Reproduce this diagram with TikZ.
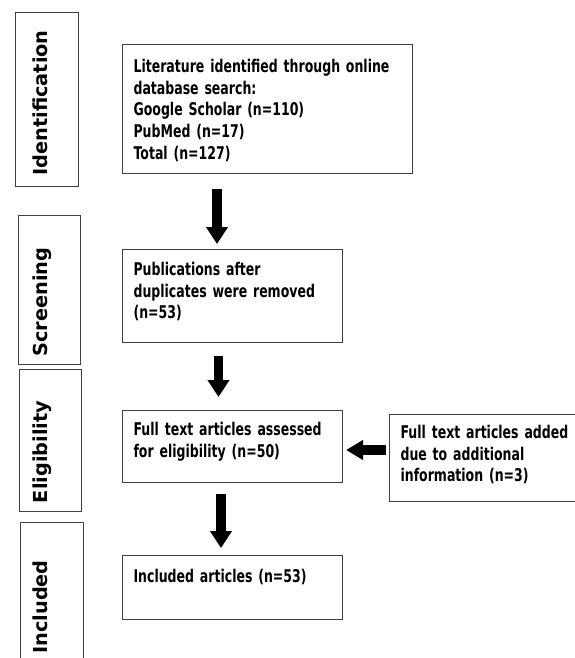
\documentclass[tikz,border=0pt]{standalone}
\usepackage{fontspec}
\setmainfont{DejaVu Sans}[FakeStretch=0.715]
\newfontfamily\stagefont{DejaVu Sans}
\usetikzlibrary{arrows.meta}

\begin{document}
\begin{tikzpicture}[x=1pt,y=-1pt,
    box/.style={draw=black!75,line width=1.1pt,anchor=north west,align=left,
      inner xsep=11pt,inner ysep=0pt,font=\fontsize{17.5}{21.7}\selectfont\bfseries},
    stagebox/.style={draw=black!75,line width=1.1pt,anchor=north west,inner sep=0pt},
    stagelabel/.style={rotate=90,anchor=base,font=\stagefont\fontsize{19.3}{22}\selectfont\bfseries},
    bigarrow/.style={line width=9.5pt,-{Triangle[length=17pt,width=21pt]}}]

  \useasboundingbox (0,0) rectangle (575,658);

  % stages on the left
  \node[stagebox,minimum width=63pt,minimum height=174pt] (idbox) at (15,12) {};
  \node[stagebox,minimum width=62pt,minimum height=149pt] (scbox) at (18,215) {};
  \node[stagebox,minimum width=62pt,minimum height=142pt] (elbox) at (19,369) {};
  \node[stagebox,minimum width=63pt,minimum height=160pt] (inbox) at (20,522) {};

  \node[stagelabel] (idlabel) at (47,103) {Identification};
  \node[stagelabel] (sclabel) at (47,302) {Screening};
  \node[stagelabel] (ellabel) at (47,452) {Eligibility};
  \node[stagelabel] (inlabel) at (47,607) {Included};

  % flow boxes
  \node[box,text width=268pt,text height=28pt,text depth=101pt] (ident) at (122,44)
    {Literature identified through online\\database search:\\Google Scholar (n=110)\\PubMed (n=17)\\Total (n=127)};
  \node[box,text width=198pt,text height=26pt,text depth=67pt] (screen) at (122,249)
    {Publications after\\duplicates were removed\\(n=53)};
  \node[box,text width=198pt,text height=25pt,text depth=47pt] (assess) at (122,410)
    {Full text articles assessed\\for eligibility (n=50)};
  \node[box,text width=198pt,text height=27pt,text depth=37pt] (incl) at (122,555)
    {Included articles (n=53)};
  \node[box,text width=172pt,text height=24pt,text depth=63pt] (added) at (389,414)
    {Full text articles added\\due to additional\\information (n=3)};

  % arrows
  \coordinate (a1) at (217,0);
  \coordinate (a2) at (218.5,0);
  \coordinate (a3) at (221,0);
  \coordinate (arow) at (0,450);
  \draw[bigarrow] ([yshift=-15pt]a1 |- ident.south) -- ([yshift=5pt]a1 |- screen.north);
  \draw[bigarrow] ([yshift=-13pt]a2 |- screen.south) -- ([yshift=13pt]a2 |- assess.north);
  \draw[bigarrow] ([yshift=-11pt]a3 |- assess.south) -- ([yshift=7pt]a3 |- incl.north);
  \draw[bigarrow,-{Triangle[length=17pt,width=19pt]}] ([xshift=-3pt]added.west |- arow) -- ([xshift=3pt]assess.east |- arow);

\end{tikzpicture}
\end{document}
